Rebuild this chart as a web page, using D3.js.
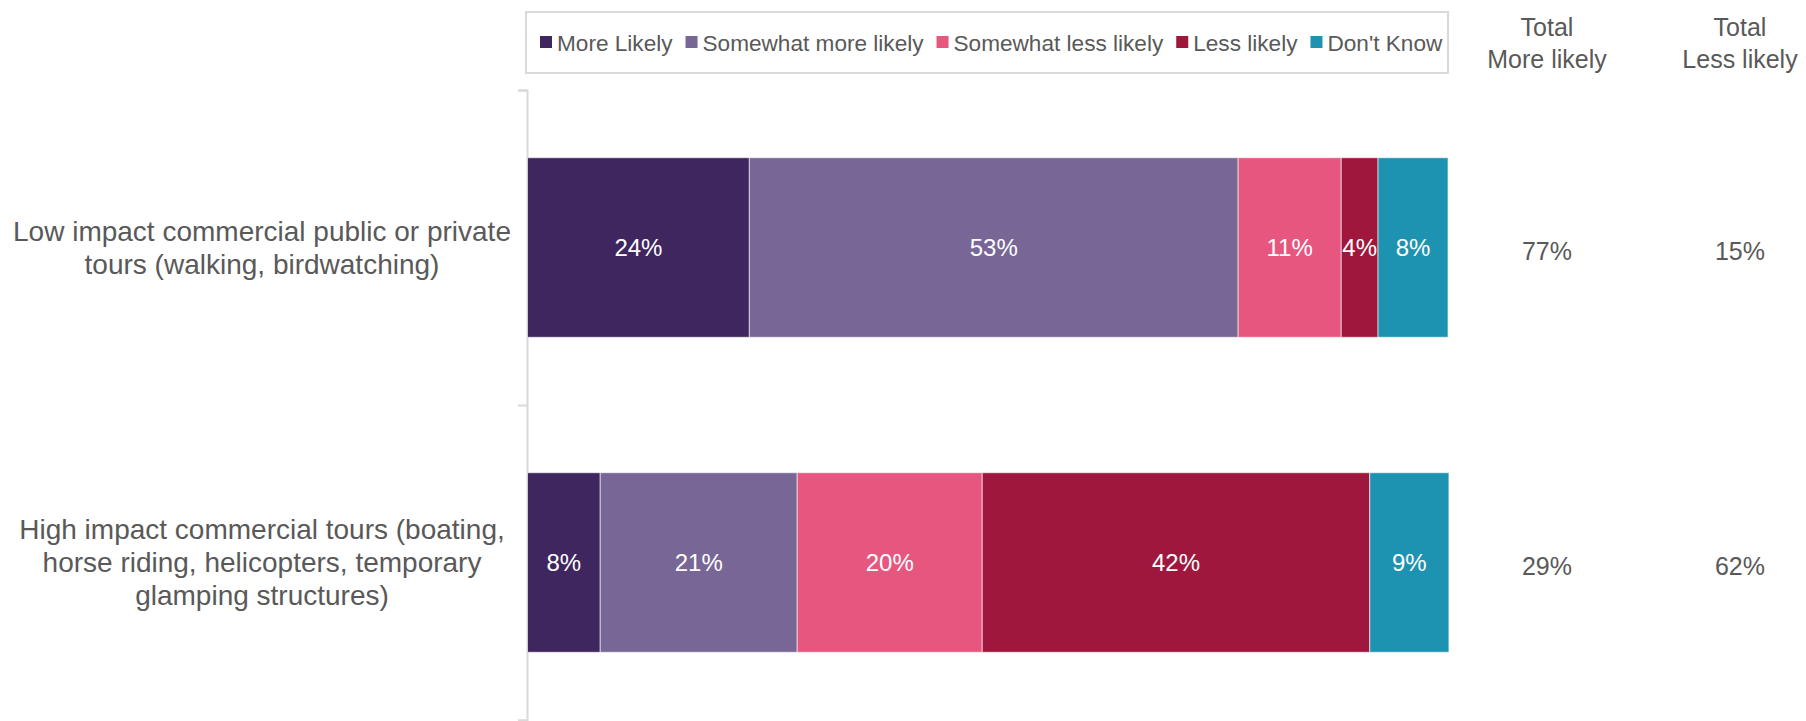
<!DOCTYPE html>
<html>
<head>
<meta charset="utf-8">
<script src="https://cdn.jsdelivr.net/npm/d3@7"></script>
<style>
	body { margin: 0; background: #fff; }
	text { font-family: "Liberation Sans", Arial, sans-serif; }
</style>
</head>
<body>
<svg width="1806" height="721"></svg>
<script>
var categories = [
	['Low impact commercial public or private', 'tours (walking, birdwatching)'],
	['High impact commercial tours (boating,', 'horse riding, helicopters, temporary', 'glamping structures)']
];
var seriesNames = ['More Likely', 'Somewhat more likely', 'Somewhat less likely', 'Less likely', "Don't Know"];
var seriesColors = ['#3f265f', '#776696', '#e7567e', '#a0173d', '#1e93b1'];
// values per category, in series order
var values = [
	[24.1, 53.1, 11.2, 4.0, 7.6],
	[7.9, 21.4, 20.1, 42.1, 8.6]
];
var totalHeaders = [['Total', 'More likely'], ['Total', 'Less likely']];
var totalMore = [77, 29];
var totalLess = [15, 62];

var svg = d3.select('svg');
var grey = '#595959';

var x = d3.scaleLinear().domain([0, 100]).range([527.5, 1448]);
var y = d3.scaleBand().domain(d3.range(categories.length)).range([90, 720])
	.paddingInner(0.43).paddingOuter(0.215);

// axis line with ticks between categories
var axis = d3.axisLeft(d3.scaleLinear().domain([0, categories.length]).range([90, 720]))
	.ticks(categories.length).tickSize(9).tickFormat('');
var axisG = svg.append('g').attr('transform', 'translate(527,0)').call(axis);
axisG.select('.domain').attr('stroke', '#d9d9d9').attr('stroke-width', 2);
axisG.selectAll('.tick line').attr('stroke', '#d9d9d9').attr('stroke-width', 2);

// stacked bars
var rows = svg.append('g').selectAll('g').data(values).join('g');
rows.each(function(row, i){
	var start = 0;
	var segs = row.map(function(v, j){
		var s = {v: v, j: j, x0: start, x1: start + v};
		start += v;
		return s;
	});
	var g = d3.select(this);
	g.selectAll('rect').data(segs).join('rect')
		.attr('x', d => x(d.x0))
		.attr('y', y(i))
		.attr('width', d => x(d.x1) - x(d.x0))
		.attr('height', y.bandwidth())
		.attr('fill', d => seriesColors[d.j])
		.attr('stroke', '#ffffff')
		.attr('stroke-opacity', 0.6)
		.attr('stroke-width', 1);
	g.selectAll('text').data(segs).join('text')
		.attr('x', d => (x(d.x0) + x(d.x1)) / 2)
		.attr('y', y(i) + y.bandwidth() / 2)
		.attr('dy', '0.35em')
		.attr('text-anchor', 'middle')
		.attr('fill', '#ffffff')
		.style('font-size', '24px')
		.text(d => Math.round(d.v) + '%');
});

// category labels
categories.forEach(function(lines, i){
	var cy = y(i) + y.bandwidth() / 2;
	var lh = 33;
	var t = svg.append('text')
		.attr('text-anchor', 'middle')
		.attr('fill', grey)
		.style('font-size', '28px');
	lines.forEach(function(line, k){
		t.append('tspan')
			.attr('x', 262)
			.attr('y', cy + (k - (lines.length - 1) / 2) * lh)
			.attr('dy', '0.35em')
			.text(line);
	});
});

// totals columns
var totalX = [1547, 1740];
totalHeaders.forEach(function(lines, c){
	var t = svg.append('text').attr('text-anchor', 'middle').attr('fill', grey).style('font-size', '25px');
	lines.forEach(function(line, k){
		t.append('tspan').attr('x', totalX[c]).attr('y', 36 + k * 32).text(line);
	});
});
[totalMore, totalLess].forEach(function(arr, c){
	svg.append('g').selectAll('text').data(arr).join('text')
		.attr('x', totalX[c])
		.attr('y', (d, i) => y(i) + y.bandwidth() / 2 + 4)
		.attr('dy', '0.35em')
		.attr('text-anchor', 'middle')
		.attr('fill', grey)
		.style('font-size', '25px')
		.text(d => d + '%');
});

// legend
svg.append('rect')
	.attr('x', 526).attr('y', 12).attr('width', 922).attr('height', 61)
	.attr('fill', 'none').attr('stroke', '#d9d9d9').attr('stroke-width', 2);
var lx = 540;
seriesNames.forEach(function(name, j){
	svg.append('rect')
		.attr('x', lx).attr('y', 36).attr('width', 12).attr('height', 12)
		.attr('fill', seriesColors[j]);
	var t = svg.append('text')
		.attr('x', lx + 17).attr('y', 43)
		.attr('dy', '0.35em')
		.attr('fill', grey)
		.style('font-size', '22.6px')
		.text(name);
	lx += 17 + t.node().getComputedTextLength() + 13;
});
</script>
</body>
</html>
